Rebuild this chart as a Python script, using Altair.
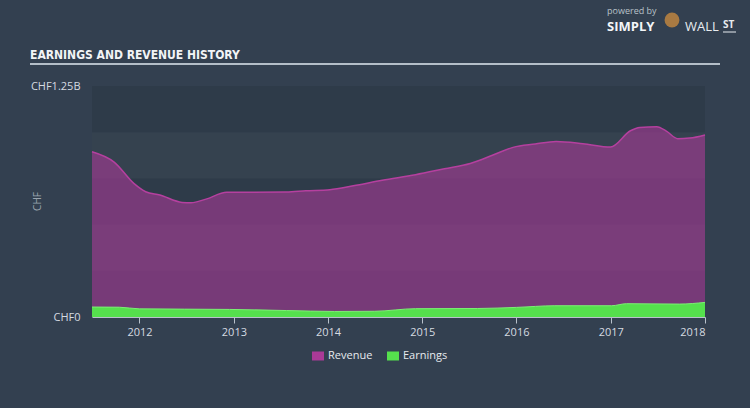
import altair as alt
import pandas as pd

# ---- data (values in CHF millions) ----
rev_dates = ["2011-07-01", "2011-09-26", "2011-12-10", "2012-01-25", "2012-03-20",
             "2012-06-14", "2012-07-19", "2012-09-15", "2012-12-04", "2013-07-24",
             "2013-10-07", "2014-01-08", "2014-04-09", "2014-07-30", "2014-12-06",
             "2015-03-28", "2015-07-06", "2015-09-30", "2015-12-19", "2016-03-14",
             "2016-06-03", "2016-09-15", "2016-12-31", "2017-03-18", "2017-04-23",
             "2017-06-28", "2017-08-07", "2017-09-17", "2017-11-03", "2018-01-01"]
rev_values = [894, 837, 723, 678, 660,
              620, 618, 638, 675, 676,
              683, 689, 710, 740, 770,
              802, 831, 875, 918, 936,
              950, 938, 920, 1008, 1026,
              1030, 1003, 965, 968, 985]

earn_dates = ["2011-07-01", "2011-10-15", "2012-01-01", "2012-12-15", "2013-07-24",
              "2014-01-26", "2014-07-01", "2014-12-06", "2015-08-04", "2016-01-01",
              "2016-05-29", "2017-01-04", "2017-03-03", "2017-09-24", "2018-01-01"]
earn_values = [54, 53, 44, 41, 35,
               30, 31, 45, 46, 52,
               61, 61, 72, 70, 79]

series_names = ["Revenue", "Earnings"]
series_colors = ["#a93a97", "#55e04d"]
year_ticks = ["2012-01-01", "2013-01-01", "2014-01-01", "2015-01-01",
              "2016-01-01", "2017-01-01", "2018-01-01"]
band_lo = [1000, 500, 0]
band_hi = [1250, 750, 250]

rev = pd.DataFrame({"date": rev_dates, "value": [v * 1e6 for v in rev_values], "series": "Revenue"})
earn = pd.DataFrame({"date": earn_dates, "value": [v * 1e6 for v in earn_values], "series": "Earnings"})
bands = pd.DataFrame({"lo": [v * 1e6 for v in band_lo], "hi": [v * 1e6 for v in band_hi]})

FONT = "Open Sans"
xscale = alt.Scale(domain=["2011-07-01", "2018-01-01"])
yscale = alt.Scale(domain=[0, 1.25e9], nice=False)
cscale = alt.Scale(domain=series_names, range=series_colors)

x_enc = alt.X("date:T", scale=xscale, title=None,
              axis=alt.Axis(values=year_ticks, format="%Y", grid=False,
                            domainColor="#b9c2cc", domainWidth=1,
                            tickColor="#b9c2cc", tickSize=6, labelColor="#d5dbe1",
                            labelFont=FONT, labelFontSize=11, labelPadding=3))
y_axis = alt.Axis(values=[0, 1.25e9], grid=False, ticks=False, domain=False,
                  labelExpr="datum.value == 0 ? 'CHF0' : 'CHF1.25B'",
                  labelColor="#d5dbe1", labelFont=FONT, labelFontSize=11,
                  labelPadding=12,
                  titleColor="#9aa4ae", titleFont=FONT, titleFontSize=10,
                  titleFontWeight="normal", titleAngle=-90,
                  titleX=-50, titleY=115, titleAlign="center")

band_layer = alt.Chart(bands).mark_rect(color="#2e3b49").encode(
    y=alt.Y("lo:Q", scale=yscale, axis=y_axis, title="CHF"), y2="hi:Q")

legend = alt.Legend(orient="none", legendX=220, legendY=264, direction="horizontal",
                    title=None, symbolType="M-1,-0.75H1V0.75H-1Z", symbolSize=144,
                    symbolOpacity=1, symbolStrokeWidth=0, labelColor="#e6eaee",
                    labelFont=FONT, labelFontSize=11, labelOffset=4, columnPadding=14)

rev_area = alt.Chart(rev).mark_area(interpolate="monotone", fillOpacity=0.6).encode(
    x=x_enc, y=alt.Y("value:Q", title="CHF"),
    fill=alt.Fill("series:N", scale=cscale, legend=legend))
rev_line = alt.Chart(rev).mark_line(interpolate="monotone", color="#b5409f",
                                    strokeWidth=1.5).encode(x="date:T", y="value:Q")
earn_area = alt.Chart(earn).mark_area(interpolate="monotone", opacity=1).encode(
    x="date:T", y="value:Q",
    fill=alt.Fill("series:N", scale=cscale, legend=legend))
earn_line = alt.Chart(earn).mark_line(interpolate="monotone", color="#7cf074",
                                      strokeWidth=1).encode(x="date:T", y="value:Q")

# ---- header decoration ----
title = alt.Chart().mark_text(text="EARNINGS AND REVENUE HISTORY", align="left",
                              baseline="alphabetic", font="DejaVu Sans Condensed",
                              fontWeight="bold", fontSize=12, color="#f2f4f6").encode(
    x=alt.value(-62), y=alt.value(-27))
underline = alt.Chart().mark_rule(color="#b4bec8", strokeWidth=2).encode(
    x=alt.value(-62), x2=alt.value(628), y=alt.value(-22))
powered = alt.Chart().mark_text(text="powered by", align="left", baseline="middle",
                                font=FONT, fontSize=9, color="#b8c0c8").encode(
    x=alt.value(515), y=alt.value(-75))
simply = alt.Chart().mark_text(text="SIMPLY", align="left", baseline="middle",
                               font=FONT, fontWeight="bold", fontSize=13,
                               color="#f4f6f8").encode(x=alt.value(515), y=alt.value(-59))
bull = alt.Chart().mark_point(filled=True, shape="circle", size=220, color="#a97a42",
                              opacity=1).encode(x=alt.value(580), y=alt.value(-66))
wall = alt.Chart().mark_text(text="WALL", align="left", baseline="middle",
                             font=FONT, fontSize=13, color="#e8ecf0").encode(
    x=alt.value(593), y=alt.value(-59))
st = alt.Chart().mark_text(text="ST", align="left", baseline="middle",
                           font=FONT, fontWeight="bold", fontSize=10,
                           color="#e8ecf0").encode(x=alt.value(631), y=alt.value(-61))
st_line = alt.Chart().mark_rule(color="#e8ecf0", strokeWidth=1).encode(
    x=alt.value(631), x2=alt.value(644), y=alt.value(-54))

chart = alt.layer(band_layer, rev_area, rev_line, earn_area, earn_line,
                  title, underline, powered, simply, bull, wall, st, st_line).properties(
    width=613, height=231,
    autosize=alt.AutoSizeParams(type="none"),
    padding={"left": 92, "top": 86, "right": 45, "bottom": 91},
    background="#334050",
).configure_view(fill="#35424f", stroke=None)

chart.save("out.html", embed_options={"renderer": "svg", "actions": False})
